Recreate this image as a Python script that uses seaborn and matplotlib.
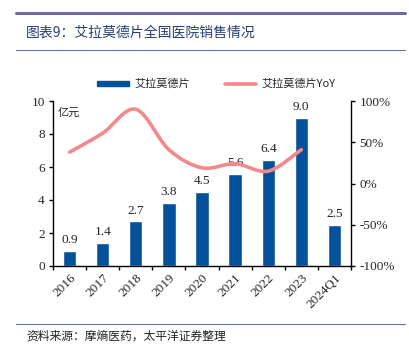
import numpy as np
import pandas as pd
import matplotlib
matplotlib.use("Agg")
import matplotlib.pyplot as plt
from matplotlib.path import Path
from matplotlib.patches import PathPatch
from matplotlib.lines import Line2D
from matplotlib.patches import Patch
import seaborn as sns

# Sales of Iguratimod tablets in national hospitals
periods = ["2016", "2017", "2018", "2019", "2020", "2021", "2022", "2023", "2024Q1"]
sales = [0.9, 1.4, 2.7, 3.8, 4.5, 5.6, 6.4, 9.0, 2.5]          # 亿元
yoy_periods = ["2016", "2017", "2018", "2019", "2020", "2021", "2022", "2023"]
yoy = [0.38, 0.61, 0.90, 0.41, 0.19, 0.24, 0.15, 0.41]          # growth rate

BAR_COLOR = "#03519B"
LINE_COLOR = "#F4898C"
TITLE_COLOR = "#253E73"
RULE_COLOR = "#6B6EA3"

sns.set_theme(style="white")
plt.rcParams["font.family"] = ["Liberation Serif", "Noto Sans CJK SC", "DejaVu Sans"]
CJK = ["Noto Sans CJK SC", "DejaVu Sans"]
SERIF = ["Liberation Serif", "Noto Sans CJK SC"]

fig = plt.figure(figsize=(4.09, 3.49), dpi=100)
ax = fig.add_axes([53 / 409, 1 - 266 / 349, 298 / 409, 165 / 349])

df = pd.DataFrame({"period": periods, "sales": sales})
sns.barplot(data=df, x="period", y="sales", color=BAR_COLOR, width=0.4,
            saturation=1, ax=ax, zorder=2)

ax.set_ylim(0, 10)
ax.set_xlim(-0.5, len(periods) - 0.5)
ax.set_yticks(range(0, 11, 2))
ax.set_xlabel("")
ax.set_ylabel("")
for s in ["left", "bottom"]:
    ax.spines[s].set_color("black")
    ax.spines[s].set_linewidth(1.0)
ax.spines["top"].set_visible(False)
ax.spines["right"].set_visible(False)

ax.set_xticks(range(len(periods)))
ax.set_xticklabels(periods, rotation=45, ha="right", va="top",
                   rotation_mode="anchor", fontsize=9.5, family=SERIF)
ax.tick_params(axis="x", which="major", length=0, pad=4)
ax.set_xticks(np.arange(-0.5, len(periods), 1.0), minor=True)
ax.tick_params(axis="x", which="minor", length=3, width=1, color="black",
               direction="out", bottom=True)
ax.tick_params(axis="y", length=3, width=1, color="black", direction="out",
               left=True, labelsize=9.5, pad=3)
for lab in ax.get_yticklabels():
    lab.set_family(SERIF)

for i, v in enumerate(sales):
    ax.text(i, v + 0.3, f"{v:.1f}", ha="center", va="bottom",
            fontsize=9.5, family=SERIF, color="#222222")

ax.text(0.015, 0.96, "亿元", transform=ax.transAxes, ha="left", va="top",
        fontsize=8, family=CJK, style="italic", color="#222222")

# YoY on a secondary axis, drawn as a smooth curve through the points
ax2 = ax.twinx()
ax2.set_ylim(-1, 1)
ax2.set_yticks([-1, -0.5, 0, 0.5, 1])
ax2.set_yticklabels(["-100%", "-50%", "0%", "50%", "100%"], family=SERIF,
                    fontsize=9.5)
ax2.tick_params(axis="y", length=3, width=1, color="black", direction="out",
                right=True, pad=3)
for s in ["left", "bottom", "top"]:
    ax2.spines[s].set_visible(False)
ax2.spines["right"].set_color("black")
ax2.spines["right"].set_linewidth(1.0)
ax2.grid(False)
ax.grid(False)

xs = np.array([periods.index(p) for p in yoy_periods], dtype=float)
ys = np.array(yoy, dtype=float)
verts = [(xs[0], ys[0])]
codes = [Path.MOVETO]
n = len(xs)
for i in range(n - 1):
    p0 = (xs[max(i - 1, 0)], ys[max(i - 1, 0)])
    p1 = (xs[i], ys[i])
    p2 = (xs[i + 1], ys[i + 1])
    p3 = (xs[min(i + 2, n - 1)], ys[min(i + 2, n - 1)])
    c1 = (p1[0] + (p2[0] - p0[0]) / 6, p1[1] + (p2[1] - p0[1]) / 6)
    c2 = (p2[0] - (p3[0] - p1[0]) / 6, p2[1] - (p3[1] - p1[1]) / 6)
    verts += [c1, c2, p2]
    codes += [Path.CURVE4] * 3
ax2.add_patch(PathPatch(Path(verts, codes), fill=False, edgecolor=LINE_COLOR,
                        linewidth=2.6, capstyle="round", zorder=3))

handles = [Patch(facecolor=BAR_COLOR, edgecolor=BAR_COLOR),
           Line2D([0], [0], color=LINE_COLOR, linewidth=2.6)]
fig.legend(handles, ["艾拉莫德片", "艾拉莫德片YoY"], loc="center",
           bbox_to_anchor=(0.53, 1 - 84 / 349), ncol=2, frameon=False,
           prop={"family": CJK, "size": 8}, handlelength=2.8, handleheight=0.35,
           columnspacing=3.2, handletextpad=0.5)

# Header and footer rules
fig.add_artist(Line2D([16 / 409, 405 / 409], [1 - 13 / 349] * 2,
                      color=RULE_COLOR, linewidth=2.2))
fig.add_artist(Line2D([16 / 409, 405 / 409], [1 - 50 / 349] * 2,
                      color=RULE_COLOR, linewidth=0.8))
fig.add_artist(Line2D([16 / 409, 405 / 409], [1 - 324 / 349] * 2,
                      color=RULE_COLOR, linewidth=0.8))

fig.text(26 / 409, 1 - 33 / 349, "图表9：艾拉莫德片全国医院销售情况",
         ha="left", va="center", fontsize=10, family=CJK, color=TITLE_COLOR)
fig.text(26 / 409, 1 - 336 / 349, "资料来源：摩熵医药，太平洋证券整理",
         ha="left", va="center", fontsize=8.5, family=CJK, style="italic",
         color="#222222")

fig.savefig("out.png", dpi=100)
